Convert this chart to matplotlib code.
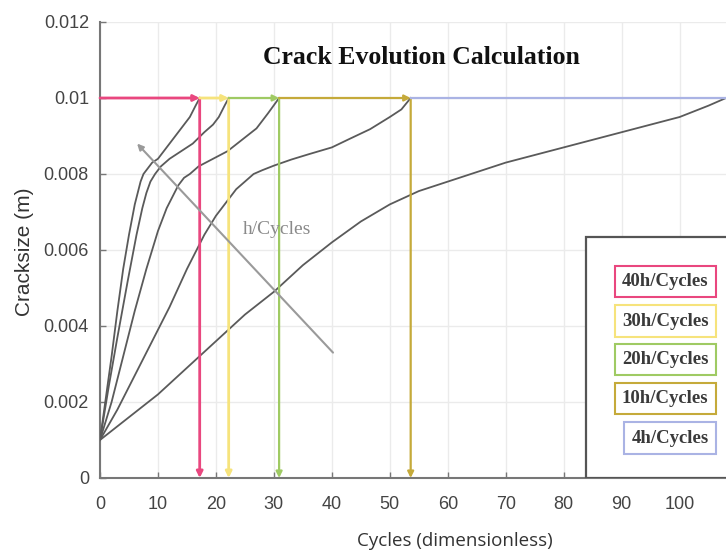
import matplotlib
matplotlib.use('Agg')
import matplotlib.pyplot as plt
from matplotlib.patches import Rectangle

# ── Data ──────────────────────────────────────────────────────
LABELS = ["40h/Cycles", "30h/Cycles", "20h/Cycles", "10h/Cycles", "4h/Cycles"]
COLORS = ["#e9477f", "#f6e37c", "#9fca63", "#c5aa3a", "#aab3e4"]
END_CYCLES = [17.2, 22.2, 30.9, 53.6, 108.0]   # cycles at which crack reaches a_crit
A_CRIT = 0.01

x_40 = [0, 1, 2, 3, 4, 5, 5.5, 6, 6.5, 7, 7.5, 8, 9, 10, 11, 12.5, 14, 15.5, 16.5, 17.2]
y_40 = [0.0010, 0.0021, 0.0032, 0.0044, 0.0055, 0.0064, 0.0068, 0.0072, 0.0075,
        0.0078, 0.0080, 0.0081, 0.0083, 0.0084, 0.0086, 0.0089, 0.0092, 0.0095,
        0.0098, 0.0100]

x_30 = [0, 1.5, 3, 4.8, 6.3, 7.3, 8, 8.7, 9.5, 10.5, 12, 14, 16, 18, 19.5, 20.5,
        21.5, 22.2]
y_30 = [0.0010, 0.0024, 0.0037, 0.0052, 0.0064, 0.0071, 0.0075, 0.0078, 0.0080,
        0.0082, 0.0084, 0.0086, 0.0088, 0.0091, 0.0093, 0.0095, 0.0098, 0.0100]

x_20 = [0, 2, 4, 6, 8, 10, 11.5, 12.5, 13.5, 14.5, 15.5, 17, 19.5, 22, 24.5, 27,
        29, 30.9]
y_20 = [0.0010, 0.0020, 0.0032, 0.0044, 0.0055, 0.0065, 0.0071, 0.0074, 0.0077,
        0.0079, 0.0080, 0.0082, 0.0084, 0.0086, 0.0089, 0.0092, 0.0096, 0.0100]

x_10 = [0, 3, 6, 9, 12, 15, 18, 20, 22, 23.5, 25, 26.5, 28, 30, 33, 36, 40, 43,
        46.6, 50, 52, 53.6]
y_10 = [0.0010, 0.0018, 0.0027, 0.0036, 0.0045, 0.0055, 0.0064, 0.0069, 0.0073,
        0.0076, 0.0078, 0.0080, 0.0081, 0.00822, 0.00838, 0.00852, 0.0087, 0.00892,
        0.00918, 0.0095, 0.0097, 0.0100]

x_4 = [0, 5, 10, 15, 20, 25, 30, 35, 40, 45, 50, 55, 60, 65, 70, 75, 80, 85,
       90, 95, 100, 105, 108]
y_4 = [0.0010, 0.0016, 0.0022, 0.0029, 0.0036, 0.0043, 0.0049, 0.0056, 0.0062,
       0.00675, 0.0072, 0.00755, 0.0078, 0.00805, 0.0083, 0.0085, 0.0087, 0.0089,
       0.0091, 0.0093, 0.0095, 0.0098, 0.0100]

CURVES = [(x_40, y_40), (x_30, y_30), (x_20, y_20), (x_10, y_10), (x_4, y_4)]

X_TICKS = [0, 10, 20, 30, 40, 50, 60, 70, 80, 90, 100]
Y_TICKS = [0, 0.002, 0.004, 0.006, 0.008, 0.01, 0.012]

# ── Figure ────────────────────────────────────────────────────
fig = plt.figure(figsize=(7.26, 5.56), dpi=100)
ax = fig.add_axes([100 / 726, 1 - 478 / 556, 626 / 726, 456 / 556])
ax.set_xlim(0, 108)
ax.set_ylim(0, 0.012)

ax.grid(True, color="#ebebeb", linewidth=1.0, zorder=0)
ax.set_axisbelow(True)

# crack growth curves
for xs, ys in CURVES:
    ax.plot(xs, ys, color="#5a5a5a", linewidth=1.3, zorder=3,
            solid_joinstyle="round")

# critical crack size lines with arrows
start = 0.0
for i, (end, col) in enumerate(zip(END_CYCLES, COLORS)):
    lw = 2.0 if i < 2 else 1.6
    if end < 108:
        ax.annotate("", xy=(end, A_CRIT), xytext=(start, A_CRIT),
                    arrowprops=dict(arrowstyle="-|>", color=col, lw=lw,
                                    mutation_scale=9, shrinkA=0, shrinkB=0),
                    zorder=4)
        ax.annotate("", xy=(end, 0), xytext=(end, A_CRIT),
                    arrowprops=dict(arrowstyle="-|>", color=col, lw=lw,
                                    mutation_scale=9, shrinkA=0, shrinkB=0),
                    zorder=4)
    else:
        ax.plot([start, end], [A_CRIT, A_CRIT], color=col, linewidth=lw, zorder=4)
    start = end

# direction arrow for h/Cycles
ax.annotate("", xy=(6.4, 0.0088), xytext=(40.2, 0.0033),
            arrowprops=dict(arrowstyle="-|>", color="#9a9a9a", lw=1.5,
                            mutation_scale=9, shrinkA=0, shrinkB=0),
            zorder=5)
ax.text(24.7, 0.00654, "h/Cycles", family="Liberation Serif", fontsize=14,
        color="#8a8a8a", ha="left", va="center", zorder=6)

# legend panel
ax.add_patch(Rectangle((83.8, 0), 30, 0.00635, facecolor="white",
                       edgecolor="#555555", linewidth=1.6, zorder=7))
leg_y = [0.00518, 0.00413, 0.00311, 0.00209, 0.00105]
for lab, col, yy in zip(LABELS, COLORS, leg_y):
    ax.text(105.0, yy, lab, family="Liberation Serif", fontweight="bold",
            fontsize=13.5, color="#3a3a3a", ha="right", va="center", zorder=8,
            bbox=dict(boxstyle="square,pad=0.38", facecolor="white",
                      edgecolor=col, linewidth=1.5))

# axes styling
ax.set_xticks(X_TICKS)
ax.set_yticks(Y_TICKS)
ax.set_yticklabels([f"{v:g}" for v in Y_TICKS])
ax.tick_params(direction="in", length=4, width=1, color="#777777",
               labelcolor="#444444", labelsize=13)
ax.tick_params(axis="x", pad=13)
ax.tick_params(axis="y", pad=8)
for s in ["top", "right"]:
    ax.spines[s].set_visible(False)
for s in ["left", "bottom"]:
    ax.spines[s].set_color("#777777")
    ax.spines[s].set_linewidth(1.5)
for lab in ax.get_xticklabels() + ax.get_yticklabels():
    lab.set_family("Liberation Sans")

fig.text(421 / 726, 1 - 58 / 556, "Crack Evolution Calculation",
         family="Liberation Serif", fontweight="bold", fontsize=18.5,
         color="#111111", ha="center", va="center")
fig.text(455 / 726, 1 - 541 / 556, "Cycles (dimensionless)",
         family="Open Sans", fontsize=13.5, color="#333333",
         ha="center", va="center")
fig.text(25 / 726, 1 - 252 / 556, "Cracksize (m)", family="Liberation Sans",
         fontsize=15, color="#333333", rotation=90, ha="center", va="center")

fig.savefig("out.png", dpi=100)
